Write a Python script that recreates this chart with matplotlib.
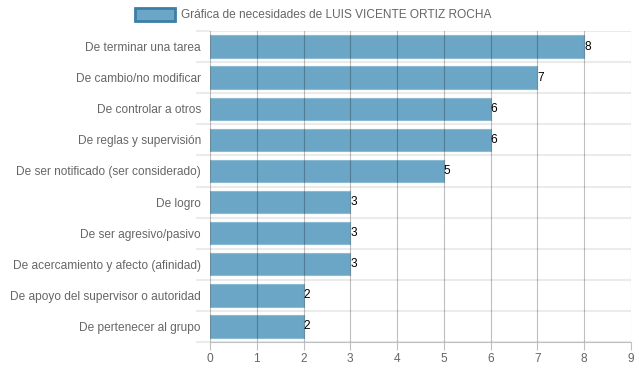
import matplotlib.pyplot as plt
from matplotlib.patches import Rectangle
import numpy as np

categories = [
    "De terminar una tarea",
    "De cambio/no modificar",
    "De controlar a otros",
    "De reglas y supervisión",
    "De ser notificado (ser considerado)",
    "De logro",
    "De ser agresivo/pasivo",
    "De acercamiento y afecto (afinidad)",
    "De apoyo del supervisor o autoridad",
    "De pertenecer al grupo",
]
values = [8, 7, 6, 6, 5, 3, 3, 3, 2, 2]
series_label = "Gráfica de necesidades de LUIS VICENTE ORTIZ ROCHA"

plt.rcParams['font.family'] = ['Liberation Sans', 'DejaVu Sans']

bar_color = '#6ba6c6'
text_color = '#666666'
fs = 8.6

fig = plt.figure(figsize=(6.39, 3.72), dpi=100)
ax = fig.add_axes([0.3286, 0.0806, 0.9875 - 0.3286, 0.9167 - 0.0806])

y = np.arange(len(categories))
ax.barh(y, values, height=0.72, color=bar_color, edgecolor='#8cbad3', linewidth=0.8, zorder=2)

for yi, v in zip(y, values):
    ax.text(v, yi, str(v), ha='left', va='center', fontsize=fs, color='black', zorder=4)

ax.set_xlim(0, 9)
ax.set_ylim(len(categories) - 0.5, -0.5)
ax.set_xticks(range(10))
ax.set_yticks(y)
ax.set_yticklabels(categories)
ax.set_yticks(np.arange(-0.5, len(categories), 1), minor=True)

# vertical grid drawn over bars
for xv in range(10):
    ax.axvline(xv, color='black', alpha=0.25, linewidth=0.8, zorder=3)
# horizontal separators between categories
ax.grid(axis='y', which='minor', color='#ebebeb', linewidth=1.5, zorder=1)

ax.tick_params(axis='y', which='major', length=0, labelsize=fs, labelcolor=text_color, pad=6.5)
ax.tick_params(axis='y', which='minor', length=10, color='#ebebeb', width=1.5)
ax.tick_params(axis='x', length=6, color='#bfbfbf', labelsize=fs, labelcolor=text_color, pad=2)

for s in ['top', 'right', 'left']:
    ax.spines[s].set_visible(False)
ax.spines['bottom'].set_color('#bfbfbf')
ax.spines['bottom'].set_linewidth(0.8)

# legend
fig.patches.append(Rectangle((135 / 639, 1 - 21 / 372), 40 / 639, 13 / 372,
                             transform=fig.transFigure, facecolor=bar_color,
                             edgecolor='#3b7ea6', linewidth=2, figure=fig))
fig.text(181 / 639, 1 - 14.5 / 372, series_label, ha='left', va='center',
         fontsize=fs, color=text_color)

fig.savefig('out.png', dpi=100)
